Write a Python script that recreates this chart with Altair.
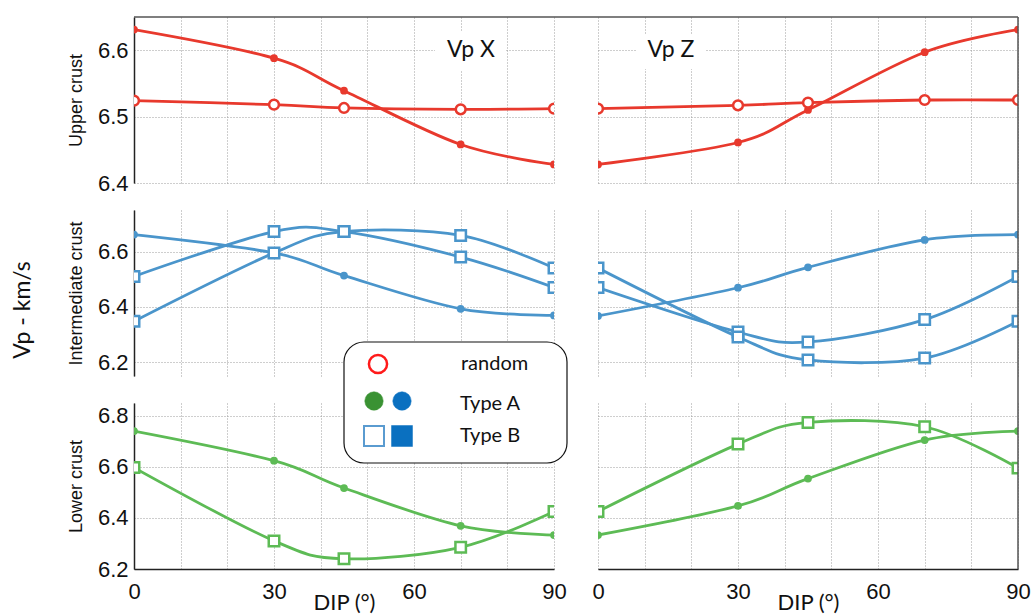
import altair as alt
import pandas as pd

# ---------------- data ----------------
DIPS = [0, 30, 45, 70, 90]

# Upper crust (red)
upper_x_filled = [6.631, 6.588, 6.539, 6.458, 6.428]
upper_x_random = [6.524, 6.518, 6.513, 6.511, 6.512]
upper_z_filled = [6.428, 6.461, 6.510, 6.597, 6.631]
upper_z_random = [6.512, 6.517, 6.521, 6.525, 6.525]

# Intermediate crust (blue)
inter_x_typeA = [6.661, 6.595, 6.513, 6.393, 6.369]
inter_x_typeB1 = [6.510, 6.672, 6.672, 6.580, 6.470]
inter_x_typeB2 = [6.348, 6.595, 6.672, 6.658, 6.540]
inter_z_typeA = [6.367, 6.469, 6.543, 6.642, 6.661]
inter_z_typeB1 = [6.470, 6.309, 6.273, 6.354, 6.510]
inter_z_typeB2 = [6.540, 6.291, 6.208, 6.215, 6.348]

# Lower crust (green)
lower_x_typeA = [6.740, 6.624, 6.517, 6.369, 6.333]
lower_x_typeB = [6.597, 6.310, 6.240, 6.285, 6.425]
lower_z_typeA = [6.333, 6.447, 6.554, 6.705, 6.740]
lower_z_typeB = [6.425, 6.689, 6.774, 6.757, 6.595]

ROW_TITLES = ["Upper crust", "Intermediate crust", "Lower crust"]
COL_TITLES = ["Vp X", "Vp Z"]
Y_DOMAINS = [[6.4, 6.65], [6.15, 6.75], [6.2, 6.85]]
Y_TICKS = [[6.4, 6.5, 6.6], [6.2, 6.4, 6.6], [6.2, 6.4, 6.6, 6.8]]
X_GRID = [0, 10, 20, 30, 40, 50, 60, 70, 80, 90]

RED = "#E8392D"
BLUE = "#4A95CB"
GREEN = "#5DBB55"

W, H = 420, 166
ONE = pd.DataFrame({"k": [0]})


def long_df(series):
    rows = []
    for name, vals, marker in series:
        for d, v in zip(DIPS, vals):
            rows.append({"dip": d, "vp": v, "series": name, "marker": marker})
    return pd.DataFrame(rows)


GRID = dict(grid=True, gridColor="#9c9c9c", gridDash=[1, 2], gridWidth=1)


def x_axis(bottom):
    kw = dict(values=X_GRID, ticks=False, **GRID)
    if bottom:
        kw.update(labels=True, domain=True, domainColor="#222", domainWidth=1.5,
                  labelExpr="datum.value % 30 == 0 ? datum.label : ''",
                  labelFont="Liberation Sans", labelFontSize=22, labelColor="#111",
                  labelPadding=12, labelFlush=False, labelOverlap=False,
                  title="DIP (°)", titleFont="Lato", titleFontSize=22,
                  titleFontWeight="normal", titleColor="#111", titleY=40,
                  titleBaseline="alphabetic")
    else:
        kw.update(labels=False, domain=False, title=None)
    return alt.Axis(**kw)


def y_axis(r, left):
    kw = dict(values=Y_TICKS[r], ticks=False, **GRID)
    if left:
        kw.update(labels=True, domain=True, domainColor="#222", domainWidth=1.5,
                  format=".1f", labelFont="Liberation Sans", labelFontSize=22,
                  labelColor="#111", labelPadding=6, title=ROW_TITLES[r],
                  titleFont="Liberation Sans", titleFontSize=18,
                  titleFontWeight="normal", titleColor="#111", titlePadding=12)
    else:
        kw.update(labels=False, domain=False, title=None)
    return alt.Axis(**kw)


def panel(r, c, df, color, extras_before, extras_after):
    x = alt.X("dip:Q", scale=alt.Scale(domain=[0, 90], nice=False, zero=False),
              axis=x_axis(r == 2))
    y = alt.Y("vp:Q", scale=alt.Scale(domain=Y_DOMAINS[r], nice=False, zero=False),
              axis=y_axis(r, c == 0))
    base = alt.Chart(df)
    line = base.mark_line(interpolate="cardinal", strokeWidth=2.8, color=color,
                          clip=True).encode(x=x, y=y, detail="series:N", order="dip:Q")
    filled = base.transform_filter("datum.marker == 'filled'").mark_point(
        shape="circle", filled=True, size=60, color=color, opacity=1, clip=True
    ).encode(x=x, y=y)
    open_c = base.transform_filter("datum.marker == 'open'").mark_point(
        shape="circle", filled=True, size=95, fill="white", stroke=color,
        strokeWidth=2.5, opacity=1, clip=True
    ).encode(x=x, y=y)
    square = base.transform_filter("datum.marker == 'square'").mark_point(
        shape="square", filled=True, size=110, fill="white", stroke=color,
        strokeWidth=2.5, opacity=1, clip=True
    ).encode(x=x, y=y)
    layers = list(extras_before) + [line, filled, open_c, square] + list(extras_after)
    return alt.layer(*layers).properties(width=W, height=H)


def hrule(x0, x1, y0, color="#555", sw=1.5):
    return alt.Chart(ONE).mark_rule(color=color, strokeWidth=sw).encode(
        x=alt.value(x0), x2=alt.value(x1), y=alt.value(y0))


def vrule(x0, y0, y1, color="#555", sw=1.5):
    return alt.Chart(ONE).mark_rule(color=color, strokeWidth=sw).encode(
        x=alt.value(x0), y=alt.value(y0), y2=alt.value(y1))


def label(text, px, py, size=20, font="Lato", align="left", angle=0):
    m = dict(text=text, font=font, fontSize=size, color="#111", align=align,
             baseline="middle")
    if angle:
        m["angle"] = angle
    return alt.Chart(ONE).mark_text(**m).encode(x=alt.value(px), y=alt.value(py))


def wbox(x0, x1, y0, y1):
    return alt.Chart(ONE).mark_rect(fill="white", strokeWidth=0).encode(
        x=alt.value(x0), x2=alt.value(x1), y=alt.value(y0), y2=alt.value(y1))


def sym(px, py, shape, size, fill, stroke, sw):
    return alt.Chart(ONE).mark_point(shape=shape, size=size, filled=True, fill=fill,
                                     stroke=stroke, strokeWidth=sw, opacity=1).encode(
        x=alt.value(px), y=alt.value(py))


# ---------------- panels ----------------
df_ux = long_df([("a", upper_x_filled, "filled"), ("r", upper_x_random, "open")])
df_uz = long_df([("a", upper_z_filled, "filled"), ("r", upper_z_random, "open")])
df_ix = long_df([("a", inter_x_typeA, "filled"), ("b1", inter_x_typeB1, "square"),
                 ("b2", inter_x_typeB2, "square")])
df_iz = long_df([("a", inter_z_typeA, "filled"), ("b1", inter_z_typeB1, "square"),
                 ("b2", inter_z_typeB2, "square")])
df_lx = long_df([("a", lower_x_typeA, "filled"), ("b", lower_x_typeB, "square")])
df_lz = long_df([("a", lower_z_typeA, "filled"), ("b", lower_z_typeB, "square")])

p_ux = panel(0, 0, df_ux, RED,
             [wbox(301, 372, 15, 53), label(COL_TITLES[0], 337, 33, size=23, align="center")],
             [hrule(0, W + 44, 0)])
p_uz = panel(0, 1, df_uz, RED,
             [wbox(38, 108, 18, 52), label(COL_TITLES[1], 73, 33, size=23, align="center")],
             [hrule(0, W, 0), vrule(W, 0, H + 27)])
p_ix = panel(1, 0, df_ix, BLUE, [],
             [label("Vp - km/s", -111, 100, size=23, align="center", angle=270)])
p_iz = panel(1, 1, df_iz, BLUE, [], [vrule(W, 0, H + 27)])
p_lx = panel(2, 0, df_lx, GREEN, [], [])

legend = [
    alt.Chart(ONE).mark_rect(cornerRadius=20, fill="white", stroke="#111",
                             strokeWidth=1.2).encode(
        x=alt.value(-254), x2=alt.value(-31), y=alt.value(-61), y2=alt.value(60)),
    sym(-220, -39, "circle", 330, "white", "#FF1A1A", 2.5),
    label("random", -137, -39),
    sym(-224, -2, "circle", 340, "#3A9233", "#3A9233", 0.5),
    sym(-196, -2, "circle", 340, "#0A70C0", "#0A70C0", 0.5),
    label("Type A", -138, 1),
    sym(-224, 33, "square", 400, "white", "#5A9BD0", 2),
    sym(-196, 33, "square", 440, "#0A70C0", "#0A70C0", 0.5),
    label("Type B", -138, 33),
]
p_lz = panel(2, 1, df_lz, GREEN, [], [vrule(W, 0, H)] + legend)

chart = alt.concat(p_ux, p_uz, p_ix, p_iz, p_lx, p_lz, columns=2,
                   spacing={"row": 27, "column": 44}, bounds="flush").properties(
    padding={"left": 11, "top": 15, "right": 0, "bottom": 0},
    background="white",
).configure_view(stroke="transparent")

chart.save("out.html", embed_options={"renderer": "svg", "actions": False})
